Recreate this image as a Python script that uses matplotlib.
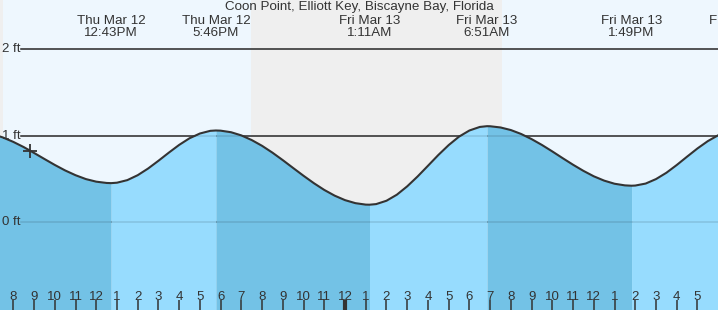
import matplotlib.pyplot as plt

plt.rcParams['font.family'] = ['Liberation Sans', 'DejaVu Sans']

title = "Coon Point, Elliott Key, Biscayne Bay, Florida"

# tide height (ft), hours counted from Thu Mar 12 00:00
tide_hours = [7.0, 7.5, 8.0, 8.5, 9.0, 9.5, 10.0, 10.5, 11.0, 11.5, 12.0, 12.5, 12.72,
              13.0, 13.5, 14.0, 14.5, 15.0, 15.5, 16.0, 16.5, 17.0, 17.5, 17.77,
              18.0, 18.5, 19.0, 19.5, 20.0, 20.5, 21.0, 21.5, 22.0, 22.5, 23.0, 23.5,
              24.0, 24.5, 25.0, 25.18,
              25.5, 26.0, 26.5, 27.0, 27.5, 28.0, 28.5, 29.0, 29.5, 30.0, 30.5, 30.85,
              31.0, 31.5, 32.0, 32.5, 33.0, 33.5, 34.0, 34.5, 35.0, 35.5, 36.0, 36.5,
              37.0, 37.5, 37.82,
              38.0, 38.5, 39.0, 39.5, 40.0, 40.5, 41.0, 41.5, 42.0]
tide_ft = [1.018, 0.979, 0.928, 0.868, 0.800, 0.730, 0.661, 0.597, 0.542, 0.497, 0.467, 0.452, 0.450,
           0.455, 0.485, 0.542, 0.619, 0.709, 0.803, 0.893, 0.970, 1.025, 1.056, 1.060,
           1.058, 1.040, 1.003, 0.949, 0.882, 0.803, 0.716, 0.625, 0.535, 0.449, 0.371, 0.305,
           0.253, 0.218, 0.201, 0.200,
           0.207, 0.246, 0.316, 0.413, 0.527, 0.651, 0.776, 0.891, 0.989, 1.060, 1.101, 1.110,
           1.109, 1.095, 1.065, 1.019, 0.960, 0.892, 0.817, 0.739, 0.663, 0.592, 0.529, 0.479,
           0.443, 0.424, 0.420,
           0.422, 0.445, 0.497, 0.570, 0.660, 0.757, 0.852, 0.937, 1.005]

extreme_hours = [12.72, 17.77, 25.18, 30.85, 37.82, 43.05]
extreme_labels = ["Thu Mar 12\n12:43PM", "Thu Mar 12\n5:46PM", "Fri Mar 13\n1:11AM",
                  "Fri Mar 13\n6:51AM", "Fri Mar 13\n1:49PM", "Fri Mar 13\n7:03PM"]

night_spans = [(7.0, 7.50), (19.47, 31.57)]
now_hour, now_ft = 8.80, 0.82

hour_ticks = list(range(8, 42))
hour_labels = [str((h - 1) % 12 + 1) for h in hour_ticks]
ft_levels = [0, 1, 2]
ft_labels = ["0 ft", "1 ft", "2 ft"]

x0, x1 = 7.358, 41.99
y0, y1 = -1.02, 2.572

day_col = '#eef7fe'
night_col = '#efefef'
dark_water = '#73c2e6'
light_water = '#97dcfe'
ink = '#333333'

fig = plt.figure(figsize=(7.18, 3.10), dpi=100)
ax = fig.add_axes([0, 0, 1, 1])
ax.set_xlim(x0, x1)
ax.set_ylim(y0, y1)
ax.set_facecolor(day_col)
ax.set_axisbelow(False)
for s in ax.spines.values():
    s.set_visible(False)

for a, b in night_spans:
    ax.axvspan(a, b, color=night_col, zorder=0, lw=0)

for lv in ft_levels:
    ax.axhline(lv, xmin=21 / 718, color=ink, lw=1.1, zorder=1)

# water bands switch colour at each high / low
edges = [tide_hours[0]] + extreme_hours[:-1] + [tide_hours[-1]]
for i in range(len(edges) - 1):
    a, b = edges[i], edges[i + 1]
    mask = [a <= t <= b for t in tide_hours]
    ax.fill_between(tide_hours, y0, tide_ft, where=mask,
                    color=dark_water if i % 2 == 0 else light_water, lw=0, zorder=2)

for lv in ft_levels:
    ax.axhline(lv, xmin=21 / 718, color='black', alpha=0.12, lw=1.1, zorder=3)

for lv, lab in zip(ft_levels, ft_labels):
    ax.text(x0 + 2 / 20.73, lv, lab, ha='left', va='center', fontsize=9.5, color=ink, zorder=3)

ax.plot(tide_hours, tide_ft, color=ink, lw=1.5, zorder=4)
ax.plot([now_hour], [now_ft], marker='+', ms=10, mew=1.3, color=ink, zorder=5)

ax.text((x0 + x1) / 2, y1 - 0.01, title, ha='center', va='top', fontsize=9.6, color=ink)
for t, lab in zip(extreme_hours, extreme_labels):
    ax.text(t, y1 - 0.175, lab, ha='center', va='top', fontsize=9.6, color=ink,
            linespacing=0.95, clip_on=False)

ax.set_yticks([])
ax.set_xticks(hour_ticks)
ax.set_xticklabels(hour_labels)
ax.tick_params(axis='x', direction='in', length=7, width=1.1, color=ink,
               labelcolor=ink, labelsize=9.5, pad=-13.8)
ticks = ax.xaxis.get_major_ticks()
ticks[hour_ticks.index(24)].tick1line.set_markeredgewidth(3)

fig.savefig('out.png', dpi=100)
